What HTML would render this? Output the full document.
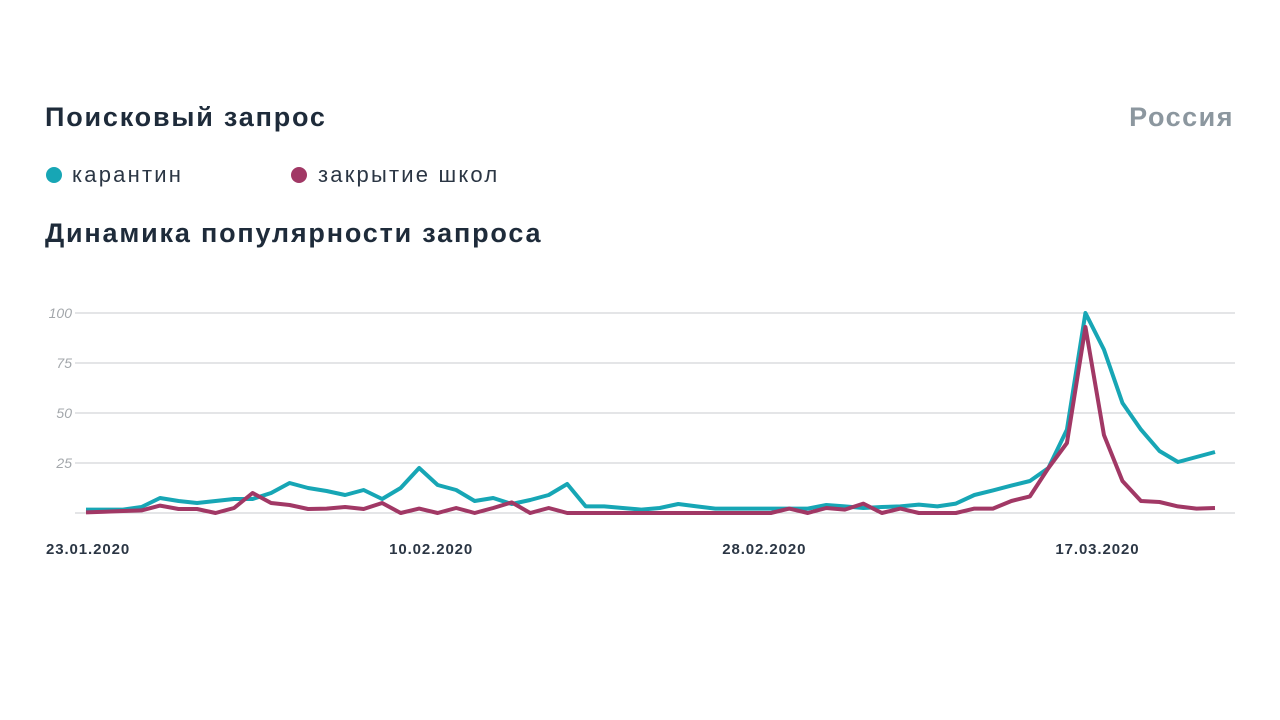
<!DOCTYPE html>
<html><head><meta charset="utf-8"><style>
body{margin:0;width:1280px;height:720px;background:#fff;font-family:"Liberation Sans","DejaVu Sans",sans-serif;position:relative;overflow:hidden;color:#1e2b3a}
.t{position:absolute;font-weight:bold}
</style></head><body>
<div class="t" style="left:45px;top:102px;font-size:27px;letter-spacing:1.8px">Поисковый запрос</div>
<div class="t" style="right:46px;top:102px;font-size:27px;color:#8c979f;letter-spacing:1.5px">Россия</div>
<div style="position:absolute;left:46px;top:162px;font-size:22px;color:#2b3644;letter-spacing:2.2px"><span style="display:inline-block;width:16px;height:16px;border-radius:50%;background:#17a6b5;margin-right:10px;vertical-align:-1px"></span>карантин</div>
<div style="position:absolute;left:291px;top:162px;font-size:22px;color:#2b3644;letter-spacing:2.2px"><span style="display:inline-block;width:16px;height:16px;border-radius:50%;background:#a13865;margin-right:11px;vertical-align:-1px"></span>закрытие школ</div>
<div class="t" style="left:45px;top:218px;font-size:27px;letter-spacing:1.8px">Динамика популярности запроса</div>
<svg id="c" width="1280" height="720" style="position:absolute;left:0;top:0"></svg>
<script>
const xLabels=["23.01.2020","10.02.2020","28.02.2020","17.03.2020"];
const xLabelIdx=[0,18,36,54];
const yTicks=[100,75,50,25];
const quarantine=[1.7,1.7,1.7,3,7.5,6,5,6,7,7,10,15,12.5,11,9,11.5,7,12.5,22.5,14,11.5,6,7.5,4.5,6.5,9,14.5,3.3,3.3,2.5,1.7,2.5,4.5,3.3,2.2,2.2,2.2,2.2,2.2,2.2,4,3.3,2.5,3,3.3,4.2,3.3,4.7,9,11.3,13.7,16,22.5,41.7,100,81.7,55,41.7,31,25.5,28,30.5];
const schools=[0.3,0.6,1,1.3,3.7,2,2,0,2.5,10,5,4,2,2.2,3,2,5,0,2.2,0,2.5,0,2.5,5.3,0,2.5,0,0,0,0,0,0,0,0,0,0,0,0,2.2,0,2.5,1.7,4.7,0,2.2,0,0,0,2.2,2.2,6,8.3,22.5,35,93,39,16,6,5.5,3.3,2.2,2.5];
const svg=document.getElementById('c');const NS='http://www.w3.org/2000/svg';
const x0=86,x1=1215,y0=513,y100=313;
const X=i=>x0+(x1-x0)*i/(quarantine.length-1);
const Y=v=>y0-(y0-y100)*v/100;
function mk(t,a){const e=document.createElementNS(NS,t);for(const k in a)e.setAttribute(k,a[k]);svg.appendChild(e);return e;}
const base=mk('line',{x1:75,x2:1235,y1:Y(0),y2:Y(0),stroke:'#c8cbcf','stroke-width':1});


yTicks.forEach(v=>{
 const g=mk('line',{x1:75,x2:1235,y1:Y(v),y2:Y(v),stroke:'#c8cbcf','stroke-width':1});
 
 
 const t=mk('text',{x:72,y:Y(v)+5,'text-anchor':'end','font-size':14,'font-style':'italic',fill:'#a3a7ab','font-family':'Liberation Sans, sans-serif'});
 t.textContent=v;
 
 
});
xLabels.forEach((l,k)=>{
 const i=xLabelIdx[k];
 const t=mk('text',{x:k==0?46:X(i)+12,y:554,'text-anchor':k==0?'start':'middle','font-size':15,'font-weight':'bold',fill:'#2b3644','letter-spacing':0.9,'font-family':'Liberation Sans, sans-serif'});
 t.textContent=l;
 
 
});
function line(d,c,n){
 const p=mk('polyline',{points:d.map((v,i)=>X(i)+','+Y(v)).join(' '),fill:'none',stroke:c,'stroke-width':4,'stroke-linejoin':'round'});
 
 
}
line(quarantine,'#17a6b5','series-quarantine');
line(schools,'#a13865','series-school-closure');
</script>
</body></html>
